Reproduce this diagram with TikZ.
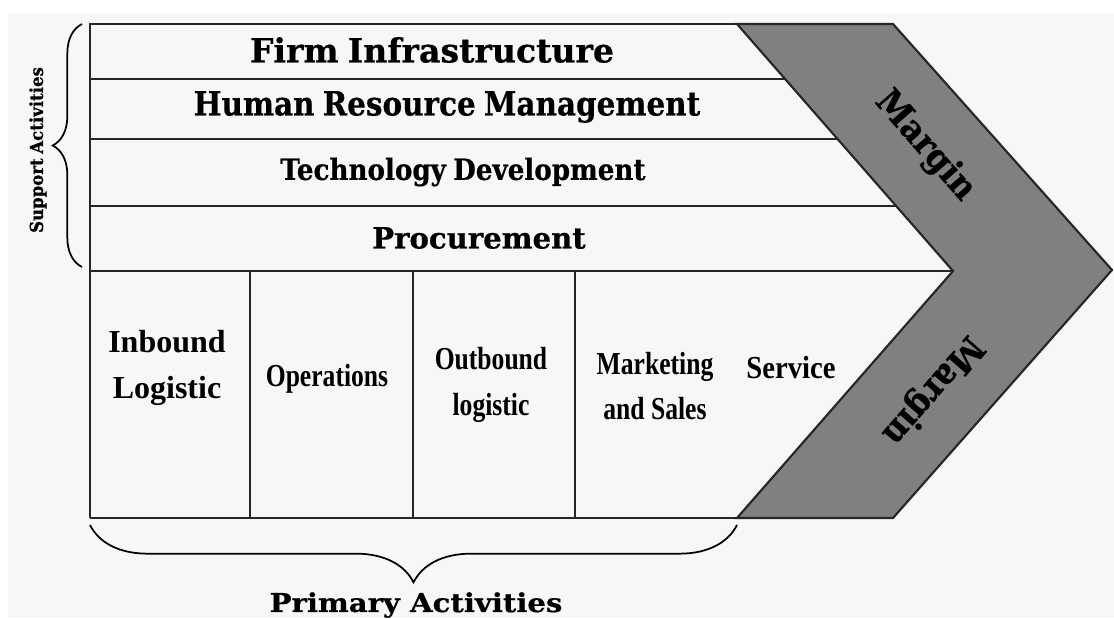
\documentclass[tikz,border=0pt]{standalone}
\usepackage{fontspec}
\setmainfont{Liberation Serif}
\newfontfamily\headfont[FakeStretch=0.92,WordSpace=0.8,FakeBold=0.6]{DejaVu Serif}
\newfontfamily\widefont[FakeStretch=1.12,FakeBold=0.6]{DejaVu Serif}
\newfontfamily\narrowfont[FakeStretch=0.8]{Liberation Serif}
\usetikzlibrary{decorations.pathreplacing}
\definecolor{paper}{HTML}{F7F7F7}
\definecolor{margingray}{HTML}{808080}

\begin{document}
\begin{tikzpicture}[x=0.75pt,y=-0.75pt,
  frame/.style={line width=1.6pt,draw=black!85},
  bighead/.style={font=\headfont\bfseries\fontsize{25}{28}\selectfont},
  smallhead/.style={font=\headfont\bfseries\fontsize{22}{26}\selectfont},
  marginlabel/.style={font=\headfont\bfseries\fontsize{26.5}{28}\selectfont},
  primlabel/.style={align=center,font=\bfseries\fontsize{24}{34}\selectfont},
  narrowlabel/.style={align=center,font=\narrowfont\bfseries\fontsize{24}{34}\selectfont},
  brace/.style={line width=1.3pt,decorate,decoration={brace,amplitude=#1,aspect=0.5}}]
\useasboundingbox (0,0) rectangle (1114,618);
\fill[white] (0,0) rectangle (1114,618);
\fill[paper] (8,13) rectangle (1114,618);

\draw[frame,fill=margingray] (737,24) -- (893,24) -- (1112,270) -- (893,518) -- (737,518) -- (953,271) -- cycle;

\draw[frame] (90,518) -- (90,24) -- (737,24);
\draw[frame] (90,79) -- (785.1,79);
\draw[frame] (90,139) -- (837.6,139);
\draw[frame] (90,206) -- (896.2,206);
\draw[frame] (90,271) -- (953,271);
\draw[frame] (90,518) -- (737,518);
\draw[frame] (250,271) -- (250,518);
\draw[frame] (413,271) -- (413,518);
\draw[frame] (575,271) -- (575,518);

\node[bighead,xscale=1.08] (firm) at (432,50) {Firm Infrastructure};
\node[bighead,xscale=0.96] (hrm) at (447,107) {Human Resource Management};
\node[smallhead,xscale=0.97] (tech) at (463,172) {Technology Development};
\node[smallhead,xscale=1.08] (proc) at (479,238) {Procurement};

\node[marginlabel,rotate=-48.8] (margintop) at (925,146) {Margin};
\node[marginlabel,rotate=-131.2] (marginbot) at (932,390) {Margin};

\node[primlabel] (inbound) at (167,368) {Inbound\\Logistic};
\node[narrowlabel] (ops) at (327,379) {Operations};
\node[narrowlabel] (outbound) at (491,385) {Outbound\\logistic};
\node[narrowlabel] (mkt) at (655,386) {Marketing\\and Sales};
\node[narrowlabel,xscale=1.12] (service) at (791,368) {Service};

\draw[brace=22pt] (82,267) -- (82,24);
\node[font=\headfont\bfseries\fontsize{13.5}{15}\selectfont,rotate=90] (support) at (38,150) {Support Activities};
\draw[brace=43pt] (737,525) -- (90,525);
\node[font=\widefont\bfseries\fontsize{19.5}{22}\selectfont] (primary) at (416,605) {Primary Activities};
\end{tikzpicture}
\end{document}
